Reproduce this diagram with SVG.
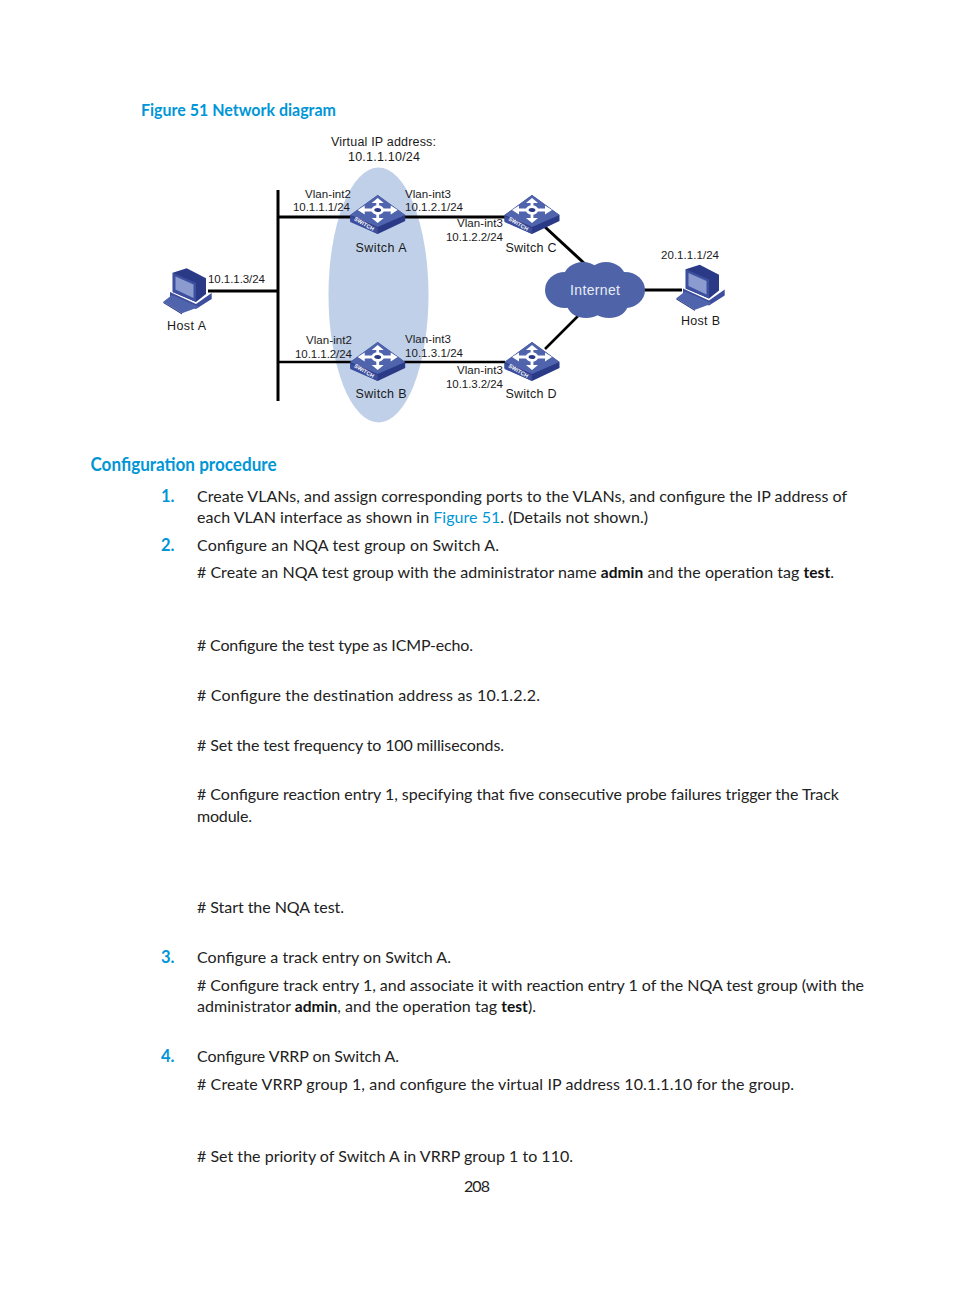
<svg xmlns="http://www.w3.org/2000/svg" xmlns:xlink="http://www.w3.org/1999/xlink" width="954" height="1296" viewBox="0 0 954 1296">
<style>
text{font-family:"Lato","Liberation Sans",sans-serif;fill:#222;white-space:pre}
.b{font-size:16px}
.bd{font-size:15.5px;font-weight:700;fill:#111}
.a{fill:#0096d6}
.n{font-size:16.5px;font-weight:700;fill:#0096d6}
.h{font-weight:700;fill:#0096d6}
.l{font-family:"Liberation Sans",Arial,sans-serif;font-size:12.5px;fill:#1a1a1a}
.s{font-family:"Liberation Sans",Arial,sans-serif;font-size:11.5px;fill:#1a1a1a}
.w{stroke:#000;stroke-width:3;fill:none}
.t{stroke-width:2.500}
</style>
<defs>
<g id="sw">
<polygon points="0,0 27.5,20 27.5,26 0,39 -27.5,26 -27.5,20" fill="#2b3a86"/>
<polygon points="0,0 27.5,20 0,32 -27.5,20" fill="#4f64ad"/>
<polygon points="-27.5,21 0,33 0,39 -27.5,27" fill="#3d4f9c"/>
<g stroke="#fff" stroke-width="2.800" fill="none"><ellipse cx="0" cy="15" rx="4.800" ry="3.400" fill="#2b3a86"/>
<path d="M-5,15H-15M5,15H15M0,11.500V7M0,18.500V24"/></g>
<g fill="#fff"><polygon points="-20,15 -13,10.500 -13,19.500"/><polygon points="20,15 13,10.500 13,19.500"/><polygon points="0,3 -6,8 6,8"/><polygon points="0,28 -6,23 6,23"/></g>
<text transform="translate(-24,25) rotate(30)" font-size="5.500" font-weight="700" textLength="22" lengthAdjust="spacingAndGlyphs" style="font-family:'Liberation Sans',sans-serif;fill:#fff">SWITCH</text>
</g>
<g id="pc">
<polygon points="-18,22 8,34 23.700,23 23.700,29 8,39 -18,27" fill="#3d4f9c"/>
<polygon points="-15.300,2.700 -1.300,-1.700 18,8.300 18,24 8,32 -15.300,22" fill="#2b3a86"/>
<polygon points="-15.300,2.700 8,13 8,32 -15.300,22" fill="#3d50a0"/>
<polygon points="-12.500,6.500 5.500,14.500 5.500,28 -12.500,19.500" fill="#8b9bd0"/>
<polygon points="-24.700,31.700 -16,25 11,37 -6,43.300" fill="#4f64ad"/>
<polygon points="-24.700,31.700 -6,43.300 -6,44.500 -24.700,33" fill="#2b3a86"/>
</g>
</defs>

<text x="141" y="116" class="h" font-size="17" textLength="195" lengthAdjust="spacingAndGlyphs">Figure 51 Network diagram</text>

<g id="vrrp-ellipse"><ellipse cx="378.500" cy="295" rx="50" ry="127.500" fill="#c0d0e9"/></g>

<g id="connectors">
<path class="w" d="M278,190V401"/>
<path class="w" d="M278,217H352M404,217H505"/>
<path class="w t" d="M278,362H352M404,362H505"/>
<path class="w" d="M208,291H278"/>
<path class="w" d="M545,227L585,264"/>
<path class="w t" d="M545,349L580,314"/>
<path class="w" d="M640,290H682"/>
</g>

<g id="switch-a"><use xlink:href="#sw" href="#sw" x="377.700" y="195"/><text class="l" x="355.500" y="252" textLength="51">Switch A</text></g>
<g id="switch-b"><use xlink:href="#sw" href="#sw" x="377.700" y="342"/><text class="l" x="355.500" y="398" textLength="51">Switch B</text></g>
<g id="switch-c"><use xlink:href="#sw" href="#sw" x="532" y="195"/><text class="l" x="505.500" y="252" textLength="51">Switch C</text></g>
<g id="switch-d"><use xlink:href="#sw" href="#sw" x="532" y="342"/><text class="l" x="505.500" y="398" textLength="51">Switch D</text></g>

<g id="internet">
<g fill="#4f64a8"><ellipse cx="595" cy="290" rx="36" ry="22"/><ellipse cx="565" cy="290" rx="20" ry="18"/><ellipse cx="625" cy="290" rx="20" ry="18"/><ellipse cx="583" cy="277" rx="19" ry="15"/><ellipse cx="606" cy="277" rx="19" ry="15"/><ellipse cx="586" cy="304" rx="19" ry="14"/><ellipse cx="609" cy="304" rx="19" ry="14"/></g>
<text x="570" y="294.500" font-size="14" style="font-family:'Liberation Sans',sans-serif;fill:#e8ecf6" textLength="50">Internet</text>
</g>

<g id="host-a"><use xlink:href="#pc" href="#pc" x="188" y="270"/><text class="l" x="167" y="330" textLength="39">Host A</text></g>
<g id="host-b"><use xlink:href="#pc" href="#pc" x="701" y="266.500"/><text class="l" x="681" y="325" textLength="39">Host B</text></g>

<g id="labels">
<text class="l" x="331" y="146" textLength="105">Virtual IP address:</text>
<text class="l" x="348" y="161" textLength="72">10.1.1.10/24</text>
<text class="s" x="305" y="198" textLength="46">Vlan-int2</text>
<text class="s" x="293" y="211" textLength="57">10.1.1.1/24</text>
<text class="s" x="405" y="198" textLength="46">Vlan-int3</text>
<text class="s" x="405" y="211" textLength="58">10.1.2.1/24</text>
<text class="s" x="457" y="227" textLength="46">Vlan-int3</text>
<text class="s" x="446" y="241" textLength="57">10.1.2.2/24</text>
<text class="s" x="208" y="283" textLength="57">10.1.1.3/24</text>
<text class="s" x="661" y="259" textLength="58">20.1.1.1/24</text>
<text class="s" x="306" y="344" textLength="46">Vlan-int2</text>
<text class="s" x="295" y="358" textLength="57">10.1.1.2/24</text>
<text class="s" x="405" y="343" textLength="46">Vlan-int3</text>
<text class="s" x="405" y="357" textLength="58">10.1.3.1/24</text>
<text class="s" x="457" y="374" textLength="46">Vlan-int3</text>
<text class="s" x="446" y="388" textLength="57">10.1.3.2/24</text>
</g>

<text x="90.500" y="471" class="h" font-size="18" textLength="186" lengthAdjust="spacingAndGlyphs">Configuration procedure</text>

<text class="n" x="161" y="502">1.</text>
<text class="b" x="197" y="502" textLength="650">Create VLANs, and assign corresponding ports to the VLANs, and configure the IP address of</text>
<text class="b" x="197" y="523" textLength="451">each VLAN interface as shown in <tspan class="a">Figure 51</tspan>. (Details not shown.)</text>
<text class="n" x="161" y="551">2.</text>
<text class="b" x="197" y="551" textLength="302">Configure an NQA test group on Switch A.</text>
<text class="b" x="197" y="578" textLength="637"># Create an NQA test group with the administrator name <tspan class="bd">admin</tspan> and the operation tag <tspan class="bd">test</tspan>.</text>
<text class="b" x="197" y="651" textLength="276"># Configure the test type as ICMP-echo.</text>
<text class="b" x="197" y="701" textLength="343"># Configure the destination address as 10.1.2.2.</text>
<text class="b" x="197" y="751" textLength="307"># Set the test frequency to 100 milliseconds.</text>
<text class="b" x="197" y="800" textLength="642"># Configure reaction entry 1, specifying that five consecutive probe failures trigger the Track</text>
<text class="b" x="197" y="822" textLength="55">module.</text>
<text class="b" x="197" y="913" textLength="147"># Start the NQA test.</text>
<text class="n" x="161" y="963">3.</text>
<text class="b" x="197" y="963" textLength="254">Configure a track entry on Switch A.</text>
<text class="b" x="197" y="991" textLength="667"># Configure track entry 1, and associate it with reaction entry 1 of the NQA test group (with the</text>
<text class="b" x="197" y="1012" textLength="339">administrator <tspan class="bd">admin</tspan>, and the operation tag <tspan class="bd">test</tspan>).</text>
<text class="n" x="161" y="1062">4.</text>
<text class="b" x="197" y="1062" textLength="202">Configure VRRP on Switch A.</text>
<text class="b" x="197" y="1090" textLength="597"># Create VRRP group 1, and configure the virtual IP address 10.1.1.10 for the group.</text>
<text class="b" x="197" y="1162" textLength="376"># Set the priority of Switch A in VRRP group 1 to 110.</text>
<text class="b" x="464" y="1192" textLength="26">208</text>
</svg>
